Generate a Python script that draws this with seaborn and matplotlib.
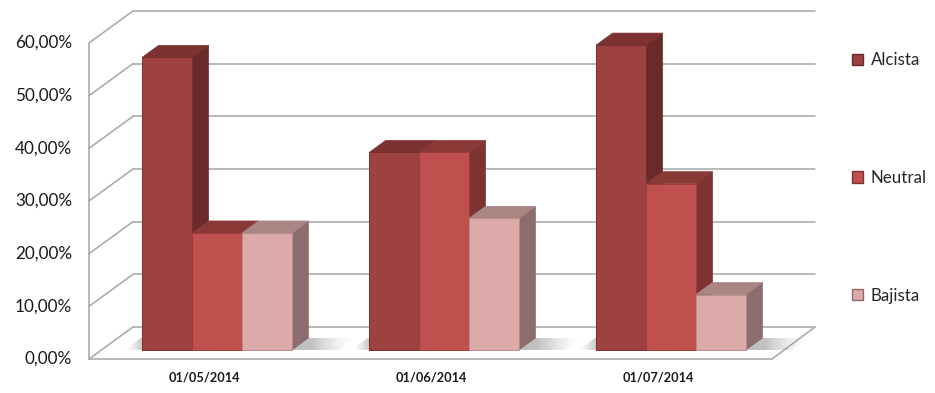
import numpy as np
import pandas as pd
import matplotlib
matplotlib.use("Agg")
import matplotlib.pyplot as plt
from matplotlib.patches import Polygon, Patch
import seaborn as sns

# ---------------- data ----------------
fechas = ["01/05/2014", "01/06/2014", "01/07/2014"]
series = ["Alcista", "Neutral", "Bajista"]
alcista = [55.56, 37.50, 57.89]
neutral = [22.22, 37.50, 31.58]
bajista = [22.22, 25.00, 10.53]
y_ticks = [0, 10, 20, 30, 40, 50, 60]
y_tick_labels = ["0,00%", "10,00%", "20,00%", "30,00%", "40,00%", "50,00%", "60,00%"]

# ---------------- styles ----------------
front_col = {"Alcista": "#9E4241", "Neutral": "#C0504E", "Bajista": "#DBAAA9"}
side_col = {"Alcista": "#6A2A29", "Neutral": "#7D3332", "Bajista": "#8A6D6C"}
top_col = {"Alcista": "#7B3231", "Neutral": "#8A3937", "Bajista": "#A98584"}
edge_col = {"Alcista": "#7A2E2D", "Neutral": "#9A3C3A", "Bajista": "#B98C8B"}
grid_col = "#A6A6A6"

sns.set_theme(style="white")
plt.rcParams["font.family"] = ["Lato", "DejaVu Sans"]

df = pd.DataFrame({
    "fecha": np.repeat(fechas, 3),
    "serie": series * 3,
    "valor": np.ravel(np.column_stack([alcista, neutral, bajista])),
})

W, H = 935, 393
fig = plt.figure(figsize=(W / 100, H / 100), dpi=100)
ax = fig.add_axes([0, 0, 1, 1])

sns.barplot(data=df, x="fecha", y="valor", hue="serie", order=fechas,
            hue_order=series, palette=front_col, saturation=1, width=0.66,
            legend=False, ax=ax, linewidth=0.6, edgecolor="none", zorder=3)

# pixel-based layout helpers
PX_PER_CAT = 227.0
X0_PX = 217.0
PX_PER_PCT = 5.267
BASE_PX = 350.0
ax.set_xlim((0 - X0_PX) / PX_PER_CAT, (W - X0_PX) / PX_PER_CAT)
ax.set_ylim((BASE_PX - H) / PX_PER_PCT, BASE_PX / PX_PER_PCT)
ax.set_axis_off()

def dx(px):
    return px / PX_PER_CAT

def dy(px):
    return px / PX_PER_PCT

# walls (front plane & back plane)
xf_l, xf_r = (89 - X0_PX) / PX_PER_CAT, (772 - X0_PX) / PX_PER_CAT
xb_l, xb_r = (133 - X0_PX) / PX_PER_CAT, (815 - X0_PX) / PX_PER_CAT
yf0 = (BASE_PX - 359) / PX_PER_PCT
yb0 = (BASE_PX - 327) / PX_PER_PCT
ymax = y_ticks[-1]

for v in y_ticks:
    ax.plot([xb_l, xb_r], [yb0 + v, yb0 + v], color=grid_col, lw=1.1, zorder=1)
    ax.plot([xf_l, xb_l], [yf0 + v, yb0 + v], color=grid_col, lw=1.1, zorder=1)
ax.plot([xf_l, xf_l], [yf0, yf0 + ymax], color=grid_col, lw=1.1, zorder=1)
ax.plot([xf_l, xf_r], [yf0, yf0], color=grid_col, lw=1.1, zorder=1)
ax.plot([xf_r, xb_r], [yf0, yb0], color=grid_col, lw=1.1, zorder=1)

# 3D sides and tops from seaborn's bars
ddx, ddy = dx(16.5), dy(12.0)
bars = sorted(ax.patches, key=lambda p: p.get_x())
for k, p in enumerate(bars):
    fc = np.array(p.get_facecolor())[:3]
    name = min(series, key=lambda s: np.abs(np.array(matplotlib.colors.to_rgb(front_col[s])) - fc).sum())
    x0, w, h = p.get_x(), p.get_width(), p.get_height()
    x1 = x0 + w
    side = Polygon([(x1, 0), (x1 + ddx, ddy), (x1 + ddx, h + ddy), (x1, h)], closed=True,
                   facecolor=side_col[name], edgecolor=side_col[name], lw=0.5, zorder=2 + 0.1 * k)
    top = Polygon([(x0, h), (x0 + ddx, h + ddy), (x1 + ddx, h + ddy), (x1, h)], closed=True,
                  facecolor=top_col[name], edgecolor=top_col[name], lw=0.5, zorder=2 + 0.1 * k)
    ax.add_patch(side)
    ax.add_patch(top)
    p.set_zorder(2.05 + 0.1 * k)
    p.set_edgecolor(edge_col[name])
    p.set_linewidth(0.7)

# soft floor shadows under each group
for g in range(len(fechas)):
    grp = bars[3 * g:3 * g + 3]
    gl = grp[0].get_x()
    gr = grp[-1].get_x() + grp[-1].get_width()
    sl, sr = gl - dx(18), gr + ddx + dx(30)
    xs = np.linspace(sl, sr, 300)
    a = np.full_like(xs, 0.45)
    left = xs < gl
    a[left] = 0.45 * ((xs[left] - sl) / (gl - sl)) ** 1.5
    right = xs > gr + ddx * 0.3
    a[right] = 0.45 * np.clip((sr - xs[right]) / (sr - gr - ddx * 0.3), 0, 1) ** 1.5
    rgba = np.zeros((2, xs.size, 4))
    rgba[..., :3] = 0.45
    rgba[..., 3] = a
    im = ax.imshow(rgba, extent=(sl, sr + ddx, 0, ddy), origin="lower",
                   aspect="auto", zorder=1.5, interpolation="bilinear")
    clip = Polygon([(sl, 0), (sr, 0), (sr + ddx, ddy), (sl + ddx, ddy)], closed=True,
                   transform=ax.transData, facecolor="none", edgecolor="none")
    im.set_clip_path(clip)

ax.set_xlim((0 - X0_PX) / PX_PER_CAT, (W - X0_PX) / PX_PER_CAT)
ax.set_ylim((BASE_PX - H) / PX_PER_PCT, BASE_PX / PX_PER_PCT)

# y tick labels (front plane)
for v, lab in zip(y_ticks, y_tick_labels):
    ax.text((72 - X0_PX) / PX_PER_CAT, yf0 + v, lab, ha="right", va="center",
            fontsize=12.3, color="#1A1A1A")

# category labels (front plane)
for i, f in enumerate(fechas):
    ax.text(i + dx(-13), (BASE_PX - 377) / PX_PER_PCT, f, ha="center", va="center",
            fontsize=9.2, fontweight="bold", color="#1A1A1A")

# legend
handles = [Patch(facecolor=front_col[s], edgecolor=side_col[s]) for s in series]
ax.legend(handles, series, loc="center left", bbox_to_anchor=(852 / W, 1 - 178 / H),
          bbox_transform=fig.transFigure, frameon=False, handlelength=0.65,
          handleheight=0.65, handletextpad=0.45, labelspacing=6.0, fontsize=12.2,
          borderpad=0, borderaxespad=0)

fig.savefig("out.png", dpi=100, facecolor="white")
